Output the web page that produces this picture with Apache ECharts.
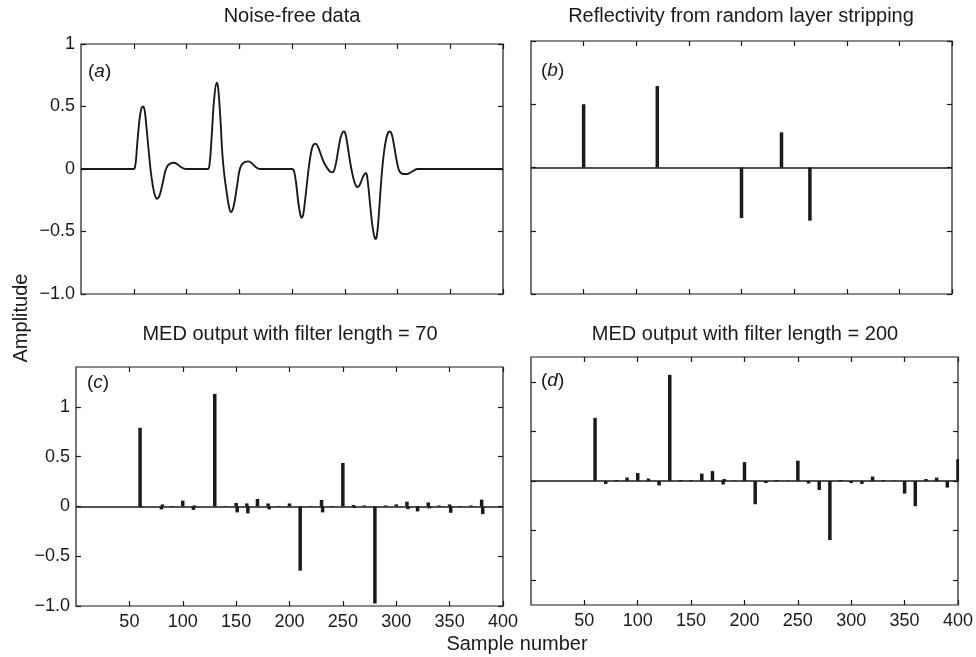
<!DOCTYPE html>
<html>
<head>
<meta charset="utf-8">
<script src="https://cdn.jsdelivr.net/npm/echarts@6/dist/echarts.min.js"></script>
<style>
  html, body { margin: 0; padding: 0; background: #fff; }
  #chart { width: 976px; height: 657px; }
</style>
</head>
<body>
<div id="chart"></div>
<script>
// tick values / labels
const xTickValues = [50, 100, 150, 200, 250, 300, 350, 400]
const xTickLabels = ['50', '100', '150', '200', '250', '300', '350', '400']
const yTickValues = [-1, -0.5, 0, 0.5, 1]
const yTickLabels = ['\u22121.0', '\u22120.5', '0', '0.5', '1']

// (a) noise-free data: [sample, amplitude]
const noiseFree = [
  [0, 0], [50, 0], [51, 0.01], [52, 0.06], [53, 0.17], [54, 0.27], [55, 0.36], [56, 0.43],
  [57.5, 0.49], [59, 0.5], [60.5, 0.46], [62, 0.34], [64, 0.16], [66, -0.01], [68, -0.13],
  [70, -0.21], [72, -0.238], [74, -0.22], [76, -0.165], [78, -0.09], [80, -0.015], [82, 0.025],
  [85, 0.045], [88, 0.05], [91, 0.04], [94, 0.02], [97, 0.005], [100, 0],
  [120, 0], [122, 0.05], [124, 0.28], [126, 0.54], [128.6, 0.69], [130, 0.65], [132, 0.42],
  [134, 0.12], [136, -0.06], [138, -0.18], [140, -0.29], [142, -0.344], [144, -0.32], [146, -0.24],
  [148, -0.13], [150, -0.02], [152, 0.03], [155, 0.055], [159, 0.061], [162, 0.045], [165, 0.02],
  [168, 0.003], [170, 0],
  [200, 0], [202, -0.02], [204, -0.12], [206, -0.27], [208, -0.37], [209, -0.39], [210.5, -0.37],
  [212, -0.28], [214, -0.13], [215.7, 0], [218, 0.13], [220, 0.19], [222.6, 0.202], [225, 0.17],
  [228, 0.1], [231, 0.04], [234, 0], [236, -0.02], [238.3, -0.027], [240, -0.01], [242, 0.06],
  [244, 0.16], [246, 0.25], [248, 0.295], [249.3, 0.3], [251, 0.27], [253, 0.17], [255, 0.06],
  [257, -0.03], [259, -0.1], [261, -0.14], [262, -0.144], [264, -0.13], [266, -0.09], [268, -0.05],
  [270, -0.032], [271, -0.05], [272.5, -0.15], [274, -0.28], [276, -0.44], [278, -0.54],
  [279.2, -0.56], [280.5, -0.53], [282, -0.4], [284, -0.16], [285.5, 0], [287, 0.12], [289, 0.23],
  [291, 0.29], [292.7, 0.3], [294.5, 0.28], [296.5, 0.2], [298.5, 0.1], [301, 0], [303, -0.03],
  [306, -0.04], [309, -0.04], [312, -0.03], [315, -0.015], [319, 0], [400, 0]
]

// (b) reflectivity spikes
const reflectivity = [[50, 0.5], [120, 0.644], [200, -0.4], [238, 0.278], [265, -0.42]]

// (c) MED output, filter length 70
const medShort = [
  [60, 0.79], [61, -0.01], [80, -0.03], [81, 0.02], [90, 0.005], [100, 0.058], [110, -0.035],
  [111, 0.01], [130, 1.13], [140, 0.005], [150, 0.035], [151, -0.06], [160, 0.03], [161, -0.07],
  [170, 0.075], [180, 0.03], [181, -0.03], [190, 0.005], [200, 0.03], [210, -0.645], [220, 0.005],
  [230, 0.065], [231, -0.06], [240, 0.005], [250, 0.436], [260, 0.015], [261, -0.015], [270, 0.01],
  [280, -0.975], [290, 0.01], [300, 0.02], [310, 0.048], [311, -0.027], [320, -0.05], [330, 0.04],
  [331, -0.02], [340, 0.01], [350, 0.02], [351, -0.064], [360, 0.005], [370, 0.01], [380, 0.068],
  [381, -0.077]
]

// (d) MED output, filter length 200
const medLong = [
  [60, 0.636], [70, -0.03], [80, 0.01], [90, 0.035], [100, 0.08], [110, 0.025], [120, -0.045],
  [130, 1.07], [140, 0.01], [150, 0.01], [160, 0.075], [170, 0.1], [180, -0.035], [181, 0.02],
  [190, 0.005], [200, 0.19], [210, -0.234], [220, -0.02], [230, 0.01], [240, 0.005], [250, 0.205],
  [260, -0.025], [270, -0.09], [280, -0.595], [290, 0.01], [300, -0.02], [310, -0.03], [320, 0.045],
  [330, 0.01], [340, 0.005], [350, -0.127], [360, -0.254], [370, 0.02], [380, 0.034],
  [390, -0.066], [400, 0.22]
]

const ink = '#1a1a1a'
const fontFamily = '"Liberation Sans", Arial, Helvetica, sans-serif'

// panel boxes
const panels = [
  { left: 81, top: 44, width: 422, height: 250, min: -1, max: 1, xLabels: false, yLabels: true },
  { left: 531, top: 41, width: 421, height: 253, min: -1, max: 1, xLabels: false, yLabels: false },
  { left: 76, top: 367, width: 427, height: 239, min: -1, max: 1.4, xLabels: true, yLabels: true },
  { left: 531, top: 357, width: 429, height: 248, min: -1.25, max: 1.25, xLabels: true, yLabels: false }
]

const tick = (values) => ({ show: true, inside: true, length: 5, customValues: values, lineStyle: { color: ink, width: 1.2 } })

const grid = []
const xAxis = []
const yAxis = []
panels.forEach((p, i) => {
  grid.push({
    left: p.left, top: p.top, width: p.width, height: p.height,
    show: true, borderColor: ink, borderWidth: 1.2, backgroundColor: 'transparent'
  })
  const xBase = { gridIndex: i, type: 'value', min: 0, max: 400, axisLine: { show: false, onZero: false }, splitLine: { show: false } }
  xAxis.push({
    ...xBase, position: 'bottom', axisTick: tick(xTickValues),
    axisLabel: {
      show: p.xLabels, customValues: xTickValues, margin: 7, color: ink, fontSize: 18, fontFamily,
      formatter: v => xTickLabels[xTickValues.indexOf(v)] ?? ''
    }
  })
  xAxis.push({ ...xBase, position: 'top', axisTick: tick(xTickValues), axisLabel: { show: false } })
  const yBase = { gridIndex: i, type: 'value', min: p.min, max: p.max, axisLine: { show: false, onZero: false }, splitLine: { show: false } }
  yAxis.push({
    ...yBase, position: 'left', axisTick: tick(yTickValues),
    axisLabel: {
      show: p.yLabels, customValues: yTickValues, margin: 6, color: ink, fontSize: 18, fontFamily,
      formatter: v => yTickLabels[yTickValues.indexOf(v)] ?? ''
    }
  })
  yAxis.push({ ...yBase, position: 'right', axisTick: tick(yTickValues), axisLabel: { show: false } })
})

const zeroLine = {
  silent: true, symbol: 'none', label: { show: false },
  lineStyle: { color: ink, width: 1.6, type: 'solid' },
  data: [{ yAxis: 0 }]
}

const stems = (i, data, w) => ({
  type: 'bar', xAxisIndex: 2 * i, yAxisIndex: 2 * i, data, barWidth: w,
  itemStyle: { color: ink }, markLine: zeroLine
})

const txt = (x, y, text, size, extra) => ({
  type: 'text', x, y, z: 100,
  style: Object.assign({
    text, font: size + 'px ' + fontFamily, fill: ink,
    textAlign: 'center', align: 'center', textVerticalAlign: 'middle', verticalAlign: 'middle'
  }, extra || {})
})

const letter = (x, y, l) => ({
  type: 'text', x, y, z: 100,
  style: {
    text: '(' + '{i|' + l + '})', font: '19px ' + fontFamily, fill: ink,
    textVerticalAlign: 'middle', verticalAlign: 'middle',
    rich: { i: { fontStyle: 'italic', fontSize: 19, fontFamily, fill: ink } }
  }
})

const option = {
  animation: false,
  backgroundColor: '#fff',
  grid, xAxis, yAxis,
  series: [
    {
      type: 'line', xAxisIndex: 0, yAxisIndex: 0, data: noiseFree,
      showSymbol: false, smooth: 0.35, lineStyle: { color: ink, width: 1.9 }
    },
    stems(1, reflectivity, 3.5),
    stems(2, medShort, 3.5),
    stems(3, medLong, 3.5)
  ],
  graphic: [
    txt(292, 16, 'Noise-free data', 20),
    txt(741, 16, 'Reflectivity from random layer stripping', 20),
    txt(290, 334, 'MED output with filter length = 70', 20),
    txt(745, 334, 'MED output with filter length = 200', 20),
    txt(517, 644, 'Sample number', 20),
    Object.assign(txt(21, 318, 'Amplitude', 20), { rotation: Math.PI / 2 }),
    letter(88, 72, 'a'),
    letter(541, 71, 'b'),
    letter(87, 383, 'c'),
    letter(541, 381, 'd')
  ]
}

const chart = echarts.init(document.getElementById('chart'))
chart.setOption(option)
</script>
</body>
</html>
